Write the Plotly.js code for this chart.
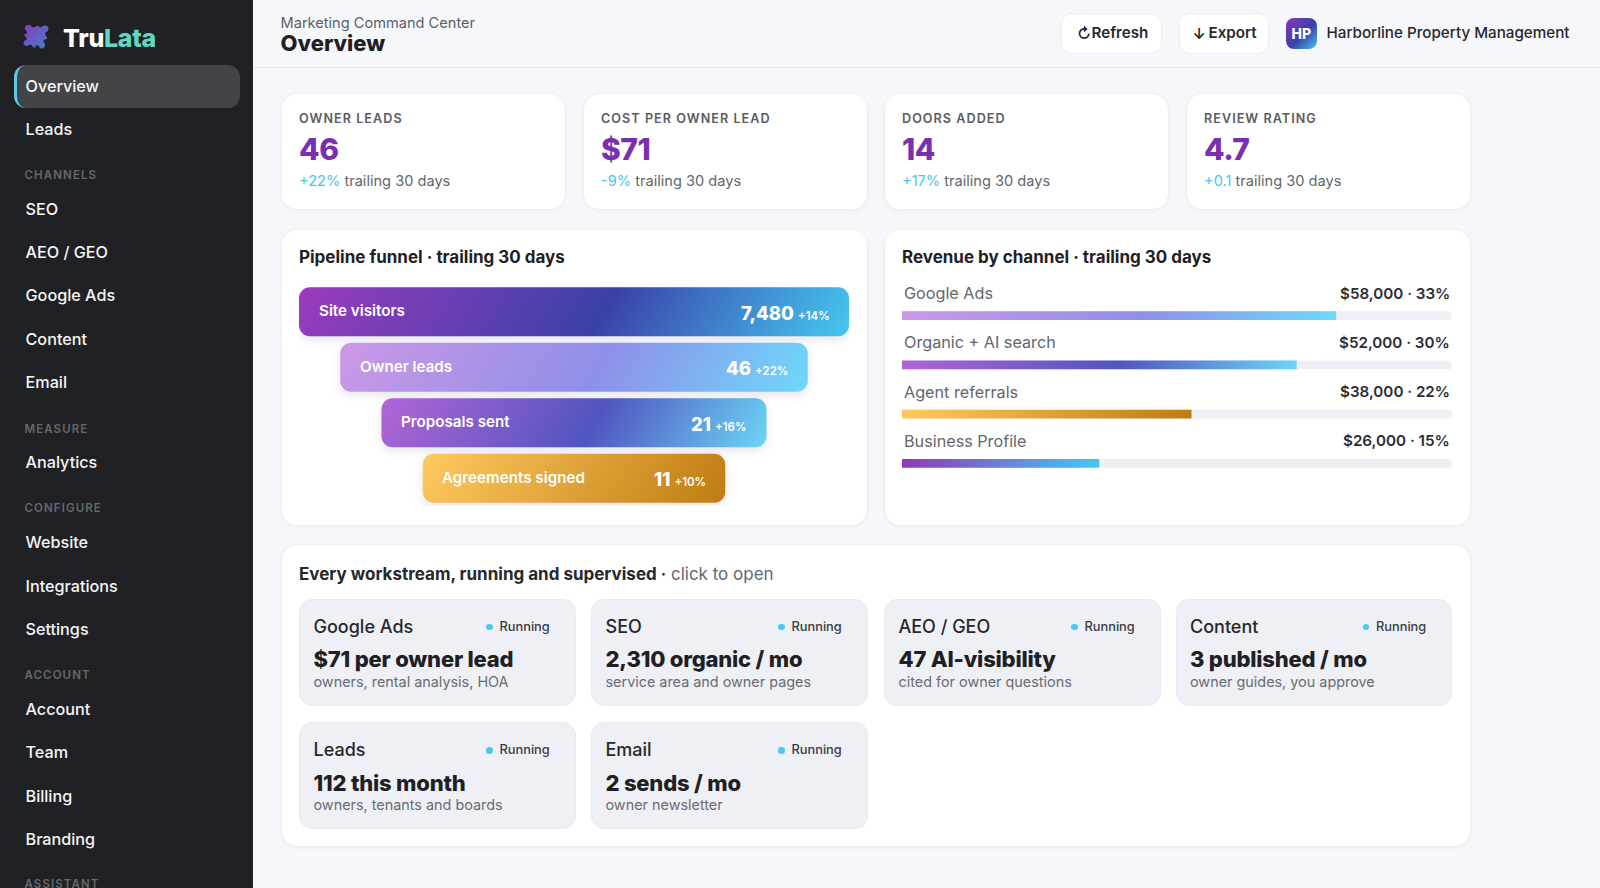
<!DOCTYPE html>
<html><head><meta charset="utf-8">
<script src="https://cdn.plot.ly/plotly-3.0.1.min.js"></script>
<style>
html,body{margin:0;padding:0;width:1600px;height:888px;overflow:hidden;background:#f6f7fb;font-family:Inter,"Noto Sans",sans-serif;}
.t{position:absolute;white-space:nowrap;line-height:1;transform:translateY(-50%);}
.box{position:absolute;box-sizing:border-box;}
.card{background:#fff;border:1px solid #eceef3;border-radius:16px;box-shadow:0 1px 4px rgba(30,40,70,.04);}
.tile{background:#eef0f6;border:1px solid #e8eaf1;border-radius:13px;}
#side{position:absolute;left:0;top:0;width:253px;height:888px;background:#1f2124;overflow:hidden;}
.plot{position:absolute;}
</style></head><body>
<div id="side"></div>
<div id="main"></div>
<div class="box card" style="left:281px;top:229px;width:587px;height:297px"></div>
<div class="box card" style="left:884px;top:229px;width:587px;height:297px"></div>
<div id="funnel" class="plot" style="left:281px;top:229px;width:587px;height:297px"></div>
<div id="rev" class="plot" style="left:884px;top:229px;width:587px;height:297px"></div>
<script>
// Funnel data
const funnelStages = ["Site visitors","Owner leads","Proposals sent","Agreements signed"];
const funnelWidths = [100,85,70,55];
const funnelValues = ["7,480","46","21","11"];
const funnelDeltas = ["+14%","+22%","+16%","+10%"];
// Revenue data
const channels = ["Google Ads","Organic + AI search","Agent referrals","Business Profile"];
const channelRevenue = ["$58,000","$52,000","$38,000","$26,000"];
const channelShares = [33,30,22,15];
const channelTrack = [41.8,41.8,41.8,41.8];
// KPI data
const kpiLabels = ["OWNER LEADS","COST PER OWNER LEAD","DOORS ADDED","REVIEW RATING"];
const kpiValues = ["46","$71","14","4.7"];
const kpiDeltas = ["+22%","-9%","+17%","+0.1"];
// Workstream data
const wsNames = ["Google Ads","SEO","AEO / GEO","Content","Leads","Email"];
const wsMetrics = ["$71 per owner lead","2,310 organic / mo","47 AI-visibility","3 published / mo","112 this month","2 sends / mo"];
const wsNotes = ["owners, rental analysis, HOA","service area and owner pages","cited for owner questions","owner guides, you approve","owners, tenants and boards","owner newsletter"];
// Sidebar data
const navItems = [["Overview",85.7],["Leads",128.6],["SEO",208.7],["AEO / GEO",252],["Google Ads",295.4],["Content",338.8],["Email",382.2],["Analytics",462.2],["Website",542.4],["Integrations",585.7],["Settings",629],["Account",709.2],["Team",752],["Billing",796],["Branding",838.8]];
const navHeads = [["CHANNELS",175.5],["MEASURE",429.6],["CONFIGURE",509.2],["ACCOUNT",675.5],["ASSISTANT",884.7]];

const FONT = 'Inter, "Noto Sans", sans-serif';
const side = document.getElementById('side'), main = document.getElementById('main');
function T(parent,x,y,html,size,weight,color,extra){
  const d=document.createElement('div');d.className='t';
  d.style.cssText=`left:${x}px;top:${y}px;font-size:${size}px;font-weight:${weight};color:${color};${extra||''}`;
  d.innerHTML=html;parent.appendChild(d);return d;
}
function B(parent,x,y,w,h,cls,extra){
  const d=document.createElement('div');d.className='box '+cls;
  d.style.cssText=`left:${x}px;top:${y}px;width:${w}px;height:${h}px;${extra||''}`;
  parent.appendChild(d);return d;
}
// Sidebar
B(side,13.5,64.5,226.5,43,'','background:#434447;border-radius:12px;border-left:3px solid #5ccbe8;');
side.insertAdjacentHTML('beforeend',`<svg style="position:absolute;left:23px;top:23px" width="28" height="28" viewBox="0 0 28 28"><defs><linearGradient id="lg" x1="0" y1="0" x2="1" y2="1"><stop offset="0" stop-color="#8a3db8"/><stop offset="1" stop-color="#3f7fd0"/></linearGradient></defs><path fill="url(#lg)" d="M3 2.5c2-1.5 4.5-1 5.5 1 .8 1.2 2.2 1.2 3.5.6l3.5-1.6c.5 2 2.2 2.3 3.4 1.2 1.6-1.5 4.6-1.9 6.1.2 1.2 1.8.3 4.4-1.7 5.2-1.3.6-1.3 2-.6 3.2l1.6 3-3.2 1.7c-1.4.8-.4 2.5.4 3.4 1.2 1.7.2 4.4-1.9 5-1.6.5-3.2-.7-3.7-2.2-.5-1.2-1.9-1.3-3-.6l-1.3 2.6-3.2-3.1c-1-1-2.3-.2-3.2.5-2 1.3-4.6-.3-4.7-2.6-.1-1.6 1.3-2.6 2.6-3.3 1.1-.6.9-2-.1-2.8L.8 12.1l2.7-1.6c1.1-.7.5-2.2-.4-3C1.4 6.300 1.2 3.900 3 2.500z"/></svg>`);
T(side,63,37.5,'Tru<span style="color:#5fd8c2">Lata</span>',25,800,'#fff','letter-spacing:-.3px;');
navItems.forEach((n,i)=>T(side,25.5,n[1],n[0],16.2,500,'#f4f5f7'));
navHeads.forEach(n=>T(side,24.5,n[1],n[0],11.5,600,'#66686c','letter-spacing:1.1px;'));
// Header
B(main,253,67,1347,1,'','background:#e6e8ee;');
T(main,280.5,22.5,'Marketing Command Center',14.6,400,'#5c5f66');
T(main,280.5,42.5,'Overview',22,800,'#1e2024');
B(main,1061,13,100.5,40.5,'','background:#fff;border:1px solid #ebedf2;border-radius:11px;');
T(main,1077,33,'&#8635;',15,600,'#222');
T(main,1091.5,33,'Refresh',15.2,600,'#26282c');
B(main,1178.5,13,90,40.5,'','background:#fff;border:1px solid #ebedf2;border-radius:11px;');
T(main,1192.5,33,'&#8595;',15,600,'#222');
T(main,1208.5,33,'Export',15.2,600,'#26282c');
B(main,1285.5,17.5,31.5,31,'','background:linear-gradient(135deg,#8a35b8,#3a41a9 55%,#45c8f0);border-radius:8px;');
T(main,1301.3,34,'HP',14,800,'#fff','transform:translate(-50%,-50%);');
T(main,1326.5,33,'Harborline Property Management',15.2,500,'#26282c');
// KPI cards
const kx=[281,583,884,1186];
kpiLabels.forEach((l,i)=>{
  B(main,kx[i],93,285,117,'card');
  T(main,kx[i]+18,119,l,12.6,600,'#5a5c62','letter-spacing:1.05px;');
  T(main,kx[i]+18,149,kpiValues[i],30,800,'#7a2fb0','letter-spacing:-.5px;');
  T(main,kx[i]+18,181,`<span style="color:#47c7ee">${kpiDeltas[i]}</span> trailing 30 days`,14.6,400,'#63666d');
});
// Workstreams
B(main,281,544,1190,303,'card');
T(main,299,573.5,'Every workstream, running and supervised <span style="font-weight:400;color:#63666d"><b style="font-weight:600;color:#26282c">·</b> click to open</span>',17,650,'#26282c');
const tx=[299,591,884,1175.5], ty=[598.5,722];
wsNames.forEach((n,i)=>{
  const x=tx[i%4], r=i<4?0:1, y=ty[r];
  B(main,x,y,276.5,107,'tile');
  T(main,x+14.5,y+28,n,18,500,'#26282c');
  B(main,x+187,y+25,6.500,6.500,'','background:#4cc9ee;border-radius:50%;');
  T(main,x+200.5,y+28,'Running',12.8,500,'#3a3c42');
  T(main,x+14.5,y+60.5,wsMetrics[i],22,800,'#1e2024','letter-spacing:-.2px;');
  T(main,x+14.5,y+83,wsNotes[i],14.4,400,'#696c73');
});

// Plotly charts
function cfg(){return {displayModeBar:false,responsive:false};}
const W=587,H=297;
const funnelTrace={type:'bar',orientation:'h',y:funnelStages,x:funnelWidths,
  base:funnelWidths.map(w=>-w/2),width:funnelWidths.map(()=>0.882),cliponaxis:false,
  marker:{color:'#5a4ab8'},hoverinfo:'y'};
const funnelAnn=[];
funnelStages.forEach((s,i)=>{
  funnelAnn.push({xref:'x',yref:'y',x:-funnelWidths[i]/2,y:s,text:s,showarrow:false,xanchor:'left',yanchor:'middle',xshift:17.5,yshift:1,
    font:{family:FONT,size:15.2,weight:600,color:'#fff'}});
  funnelAnn.push({xref:'x',yref:'y',x:funnelWidths[i]/2,y:s,showarrow:false,xanchor:'right',yanchor:'middle',xshift:-17.5,yshift:-1,
    text:`${funnelValues[i]} <span style="font-size:11.5px;font-weight:600">${funnelDeltas[i]}</span>`,
    font:{family:FONT,size:18.500,weight:800,color:'#fff'}});
});
const pFunnel=Plotly.newPlot('funnel',[funnelTrace],{
  width:W,height:H,paper_bgcolor:'rgba(0,0,0,0)',plot_bgcolor:'rgba(0,0,0,0)',showlegend:false,
  margin:{l:18,r:19,t:55,b:20,pad:0},barcornerradius:11,
  title:{text:'Pipeline funnel · trailing 30 days',xref:'container',yref:'container',x:18/W,y:1-28.5/H,xanchor:'left',yanchor:'middle',
    font:{family:FONT,size:17,weight:650,color:'#1f2125'}},
  xaxis:{visible:false,range:[-50,50],fixedrange:true},
  yaxis:{visible:false,type:'category',categoryorder:'array',categoryarray:funnelStages,range:[3.5,-0.5],fixedrange:true},
  annotations:funnelAnn
},cfg());

const trackTrace={type:'bar',orientation:'h',y:channels,x:channelTrack,width:channels.map(()=>0.178),
  marker:{color:'#eef0f5'},hoverinfo:'skip',name:'track'};
const shareTrace={type:'bar',orientation:'h',y:channels,x:channelShares,width:channels.map(()=>0.178),
  marker:{color:'#5a4ab8'},hovertemplate:'%{y}: %{x}%<extra></extra>',name:'share'};
const revAnn=[];
channels.forEach((c,i)=>{
  revAnn.push({xref:'paper',yref:'y',x:0,y:c,text:c,showarrow:false,xanchor:'left',yanchor:'middle',yshift:22.4,
    font:{family:FONT,size:16.2,weight:400,color:'#63666d'}});
  revAnn.push({xref:'paper',yref:'y',x:1,y:c,text:`${channelRevenue[i]} · ${channelShares[i]}%`,showarrow:false,xanchor:'right',yanchor:'middle',yshift:22.4,
    font:{family:FONT,size:15.2,weight:600,color:'#2c2e33'}});
});
const pRev=Plotly.newPlot('rev',[trackTrace,shareTrace],{
  width:W,height:H,paper_bgcolor:'rgba(0,0,0,0)',plot_bgcolor:'rgba(0,0,0,0)',showlegend:false,barmode:'overlay',
  margin:{l:18,r:19,t:62,b:38,pad:0},barcornerradius:4.5,
  title:{text:'Revenue by channel · trailing 30 days',xref:'container',yref:'container',x:18/W,y:1-28.5/H,xanchor:'left',yanchor:'middle',
    font:{family:FONT,size:17,weight:650,color:'#1f2125'}},
  xaxis:{visible:false,range:[0,41.8],fixedrange:true},
  yaxis:{visible:false,type:'category',categoryorder:'array',categoryarray:channels,range:[3.5,-0.5],fixedrange:true},
  annotations:revAnn
},cfg());

// Gradient fills applied on the bars the library drew
const GR={
  strong:[[0,'#9b3bbd'],[.55,'#3a41a9'],[1,'#45c8f0']],
  light:[[0,'#cc98e6'],[.55,'#8f8fe8'],[1,'#6cd9fb']],
  mid:[[0,'#b264d6'],[.55,'#5055c0'],[1,'#6cd6f6']],
  gold:[[0,'#ffc95f'],[1,'#bf7c12']],
  biz:[[0,'#9238b8'],[1,'#42c9f1']]
};
function paint(div,paths,keys,angle,shadow){
  const svg=div.querySelector('svg.main-svg');
  const NS='http://www.w3.org/2000/svg';
  const defs=document.createElementNS(NS,'defs');svg.insertBefore(defs,svg.firstChild);
  paths.forEach((p,i)=>{
    const b=p.getBBox(), a=angle*Math.PI/180, dx=Math.sin(a), dy=-Math.cos(a);
    const L=Math.abs(b.width*dx)+Math.abs(b.height*dy), cx=b.x+b.width/2, cy=b.y+b.height/2;
    const g=document.createElementNS(NS,'linearGradient');
    const id=div.id+'-g'+i;g.setAttribute('id',id);g.setAttribute('gradientUnits','userSpaceOnUse');
    g.setAttribute('x1',cx-dx*L/2);g.setAttribute('y1',cy-dy*L/2);g.setAttribute('x2',cx+dx*L/2);g.setAttribute('y2',cy+dy*L/2);
    GR[keys[i]].forEach(s=>{const st=document.createElementNS(NS,'stop');st.setAttribute('offset',s[0]);st.setAttribute('stop-color',s[1]);g.appendChild(st);});
    defs.appendChild(g);
    p.style.fill=`url(#${id})`;
    if(shadow)p.style.filter=shadow;
  });
}
pFunnel.then(gd=>paint(gd,[...gd.querySelectorAll('.barlayer .point path')],['strong','light','mid','gold'],120,'drop-shadow(0 3px 5px rgba(40,40,90,.13))'));
pRev.then(gd=>{
  const all=[...gd.querySelectorAll('.barlayer .trace')];
  paint(gd,[...all[1].querySelectorAll('.point path')],['light','mid','gold','biz'],90);
});
</script>
</body></html>
